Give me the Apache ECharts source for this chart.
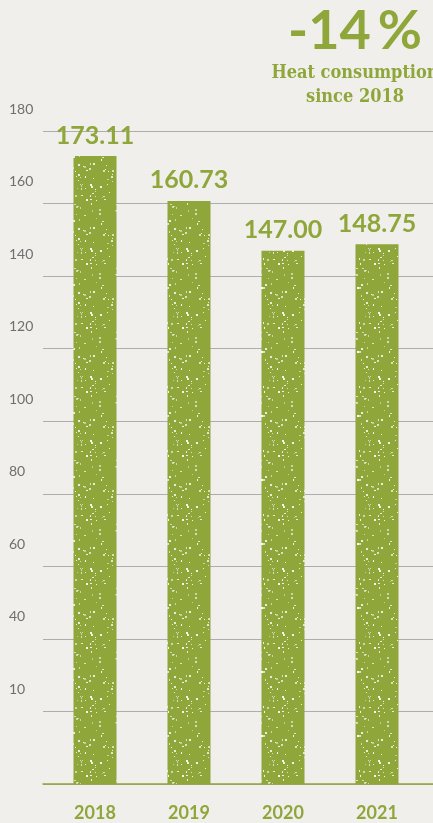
<!DOCTYPE html>
<html>
<head>
<meta charset="utf-8">
<script src="https://cdn.jsdelivr.net/npm/echarts@6/dist/echarts.min.js"></script>
<style>
  html, body { margin: 0; padding: 0; background: #f1efec; }
  #heat { width: 433px; height: 823px; }
</style>
</head>
<body>
<div id="heat"></div>
<script>
// values
const years = ['2018', '2019', '2020', '2021'];
const heatValues = [173.11, 160.73, 147.00, 148.75];
const tickValues = [0, 20, 40, 60, 80, 100, 120, 140, 160, 180];
const tickLabels = ['', '10', '40', '60', '80', '100', '120', '140', '160', '180'];
const headline = '-14\u2009%';
const subline = 'Heat consumption\nsince 2018';

const green = '#8ea63a';

// speckled fill for the bars (deterministic, just decoration)
function speckle() {
    const c = document.createElement('canvas');
    c.width = 48; c.height = 64;
    const ctx = c.getContext('2d');
    ctx.fillStyle = green;
    ctx.fillRect(0, 0, c.width, c.height);
    let s = 7;
    const rnd = () => { s = (s * 16807) % 2147483647; return s / 2147483647; };
    for (let i = 0; i < 70; i++) {
        ctx.fillStyle = 'rgba(255,255,255,' + (0.45 + rnd() * 0.5) + ')';
        ctx.fillRect(Math.floor(rnd() * 48), Math.floor(rnd() * 64), 1 + Math.floor(rnd() * 2), 1 + Math.floor(rnd() * 2));
    }
    return c;
}

const chart = echarts.init(document.getElementById('heat'));
chart.setOption({
    backgroundColor: '#f1efec',
    animation: false,
    title: {
        text: headline,
        subtext: subline,
        left: 350,
        top: 0,
        textAlign: 'center',
        itemGap: 2,
        textStyle: {
            fontFamily: 'Lato', fontWeight: 'bold', fontSize: 54, color: green
        },
        subtextStyle: {
            fontFamily: 'DejaVu Serif Condensed', fontWeight: 'bold', fontSize: 18,
            color: green, lineHeight: 24, align: 'center'
        }
    },
    grid: [
        { left: 43, right: 0, top: 131, bottom: 39 },
        { left: 48, right: 9, top: 131, bottom: 39 }
    ],
    xAxis: [
        {
            type: 'category', gridIndex: 0, data: years,
            axisLine: { lineStyle: { color: green, width: 1.5 } },
            axisTick: { show: false },
            axisLabel: { show: false }
        },
        {
            type: 'category', gridIndex: 1, data: years,
            axisLine: { show: false },
            axisTick: { show: false },
            axisLabel: {
                margin: 20, color: green, fontFamily: 'Lato', fontWeight: 'bold', fontSize: 18
            }
        }
    ],
    yAxis: [
        {
            type: 'value', gridIndex: 0, min: 0, max: 180, interval: 20,
            axisLine: { show: false },
            axisTick: { show: false },
            splitLine: { lineStyle: { color: '#adadad', width: 1 } },
            axisLabel: {
                align: 'left', margin: 34, verticalAlign: 'bottom', padding: [0, 0, 15, 0],
                color: '#6f6f6f', fontFamily: 'Lato', fontSize: 14,
                formatter: function (v) {
                    const i = tickValues.indexOf(v);
                    return i >= 0 ? tickLabels[i] : '';
                }
            }
        },
        {
            type: 'value', gridIndex: 1, min: 0, max: 180, interval: 20, show: false
        }
    ],
    series: [{
        type: 'bar',
        xAxisIndex: 1,
        yAxisIndex: 1,
        data: heatValues,
        barWidth: 43,
        itemStyle: { color: { image: speckle(), repeat: 'repeat' } },
        label: {
            show: true, position: 'top', distance: 8,
            color: green, fontFamily: 'Lato', fontWeight: 'bold', fontSize: 25,
            formatter: function (p) { return p.value.toFixed(2); }
        }
    }]
});
</script>
</body>
</html>
